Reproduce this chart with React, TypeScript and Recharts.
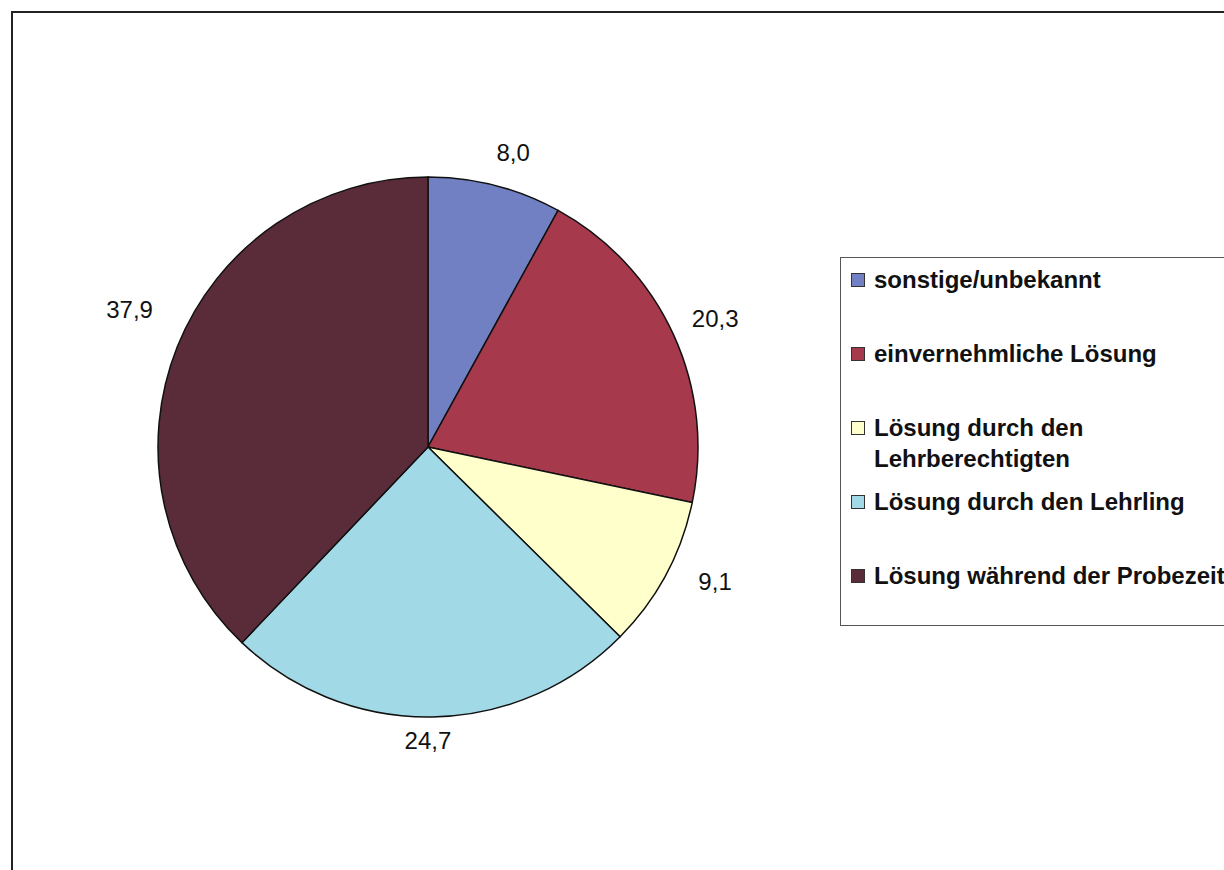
import React from "react";
import { PieChart, Pie, Cell, Legend } from "recharts";

const categories = [
  "sonstige/unbekannt",
  "einvernehmliche Lösung",
  "Lösung durch den Lehrberechtigten",
  "Lösung durch den Lehrling",
  "Lösung während der Probezeit",
];
const values = [8.0, 20.3, 9.1, 24.7, 37.9];
const colors = ["#7080c2", "#a63a4c", "#ffffcc", "#a2d9e6", "#5a2c3a"];

// small text nudges (style only) for the outside labels
const labelNudge: [number, number][] = [
  [8, -3],
  [0, -3],
  [14, -8],
  [-5, -7],
  [-5, -26],
];

const data = categories.map((name, i) => ({ name, value: values[i] }));

const FONT = "'Liberation Sans', Arial, sans-serif";
const RAD = Math.PI / 180;

const renderLabel = (props: any) => {
  const { cx, cy, midAngle, outerRadius, value, index } = props;
  const text = Number(value).toFixed(1).replace(".", ",");
  const fs = 24;
  const w = text.length * 0.5 * fs;
  const h = fs * 0.72;
  const pad = 22;
  const c = Math.cos(-midAngle * RAD);
  const s = Math.sin(-midAngle * RAD);
  const n = labelNudge[index] || [0, 0];
  const x = cx + (outerRadius + pad) * c + (c * w) / 2 + n[0];
  const y = cy + (outerRadius + pad) * s + (s * h) / 2 + n[1];
  return (
    <text
      x={x}
      y={y}
      textAnchor="middle"
      dominantBaseline="central"
      fill="#111"
      fontSize={fs}
      fontFamily={FONT}
    >
      {text}
    </text>
  );
};

const LegendContent = () => {
  return (
    <div
      style={{
        width: 440,
        height: 369,
        boxSizing: "border-box",
        border: "1.5px solid #555",
        paddingTop: 6,
        background: "#fff",
        fontFamily: FONT,
        fontWeight: "bold",
        fontSize: 24,
        color: "#111",
      }}
    >
      {data.map((entry, i) => (
        <div
          key={entry.name}
          style={{
            height: 74,
            display: "flex",
            alignItems: "flex-start",
            paddingLeft: 10,
          }}
        >
          <span
            style={{
              display: "inline-block",
              width: 12,
              height: 12,
              marginTop: 9,
              border: "1.5px solid #333",
              background: colors[i],
              flex: "0 0 auto",
            }}
          />
          <span style={{ marginLeft: 9, lineHeight: "31px", width: 372 }}>
            {entry.name}
          </span>
        </div>
      ))}
    </div>
  );
};

export default function App() {
  return (
    <div
      style={{
        position: "relative",
        width: 1224,
        height: 870,
        overflow: "hidden",
        background: "#fff",
      }}
    >
      <style>{`html,body{margin:0;padding:0;}`}</style>
      <div
        style={{
          position: "absolute",
          left: 11,
          top: 11,
          width: 1400,
          height: 1000,
          border: "2px solid #222",
        }}
      />
      <div style={{ position: "absolute", left: 0, top: 0 }}>
        <PieChart width={1224} height={870}>
          <Pie
            data={data}
            dataKey="value"
            nameKey="name"
            cx={423}
            cy={442}
            outerRadius={270}
            startAngle={90}
            endAngle={-270}
            stroke="#111"
            strokeWidth={1.5}
            label={renderLabel}
            labelLine={false}
            isAnimationActive={false}
          >
            {data.map((d, i) => (
              <Cell key={d.name} fill={colors[i]} />
            ))}
          </Pie>
          <Legend
            content={<LegendContent />}
            layout="vertical"
            wrapperStyle={{ position: "absolute", left: 840, top: 257, width: 440 }}
          />
        </PieChart>
      </div>
    </div>
  );
}
